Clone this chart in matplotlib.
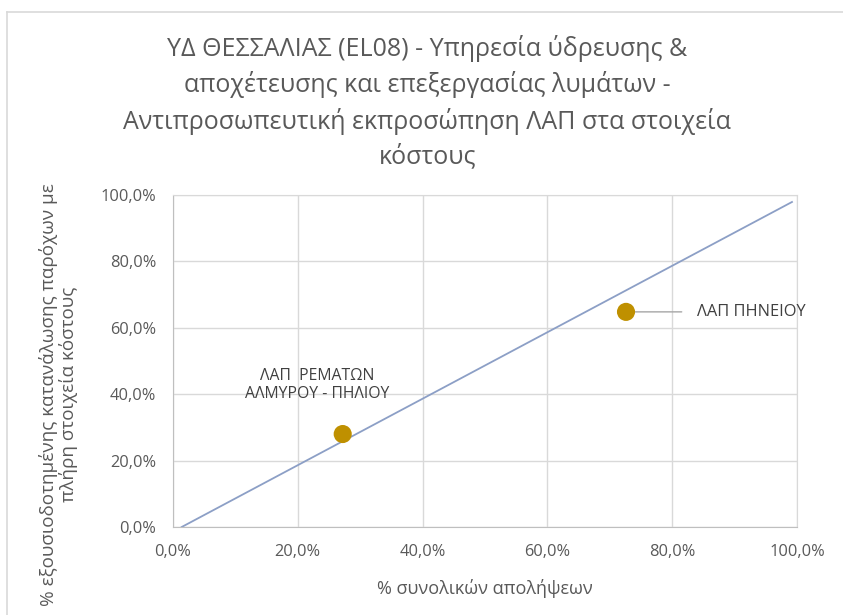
import matplotlib
matplotlib.use('Agg')
import matplotlib.pyplot as plt
from matplotlib.ticker import FuncFormatter, MultipleLocator
from matplotlib.lines import Line2D

plt.rcParams['font.family'] = ['Open Sans', 'DejaVu Sans']

# data
x_pct = [0.272, 0.726]                  # % συνολικών απολήψεων
y_pct = [0.280, 0.648]                  # % εξουσιοδοτημένης κατανάλωσης
point_names = ['ΛΑΠ  ΡΕΜΑΤΩΝ\nΑΛΜΥΡΟΥ - ΠΗΛΙΟΥ', 'ΛΑΠ ΠΗΝΕΙΟΥ']
ref_line_x = [0.014, 0.992]
ref_line_y = [0.0, 0.979]

title = ('ΥΔ ΘΕΣΣΑΛΙΑΣ (EL08) - Υπηρεσία ύδρευσης &\n'
         'αποχέτευσης και επεξεργασίας λυμάτων -\n'
         'Αντιπροσωπευτική εκπροσώπηση ΛΑΠ στα στοιχεία\n'
         'κόστους')
xlab = '% συνολικών απολήψεων'
ylab = '% εξουσιοδοτημένης κατανάλωσης παρόχων με\nπλήρη στοιχεία κόστους'

grey = '#595959'
gridc = '#D9D9D9'

fig = plt.figure(figsize=(8.43, 6.15), dpi=100)
ax = fig.add_axes([0.2052, 0.1431, 0.7402, 0.5398])

# outer chart border (only top/left visible in the crop)
fig.add_artist(Line2D([7/843, 1], [1 - 12/615, 1 - 12/615], color=gridc, lw=1.2,
                      transform=fig.transFigure))
fig.add_artist(Line2D([7/843, 7/843], [0, 1 - 12/615], color=gridc, lw=1.2,
                      transform=fig.transFigure))

ax.plot(ref_line_x, ref_line_y, color='#8C9FC6', lw=1.3, zorder=2)
ax.scatter(x_pct, y_pct, s=170, color='#BF9000', edgecolors='none', zorder=4)

# labels
ax.annotate(point_names[0], xy=(x_pct[0], y_pct[0]), xytext=(-26, 49),
            textcoords='offset pixels', ha='center', va='center',
            fontsize=11.3, color='#404040', linespacing=1.15)
ax.annotate(point_names[1], xy=(x_pct[1], y_pct[1]), xytext=(71, 0),
            textcoords='offset pixels', ha='left', va='center',
            fontsize=11.8, color='#404040',
            arrowprops=dict(arrowstyle='-', color='#A6A6A6', lw=1,
                            shrinkA=9, shrinkB=0), zorder=3)

ax.set_xlim(0, 1)
ax.set_ylim(0, 1)
ax.xaxis.set_major_locator(MultipleLocator(0.2))
ax.yaxis.set_major_locator(MultipleLocator(0.2))
fmt = FuncFormatter(lambda v, p: '{:.1f}%'.format(v * 100).replace('.', ','))
ax.xaxis.set_major_formatter(fmt)
ax.yaxis.set_major_formatter(fmt)
ax.tick_params(length=0, labelsize=11.8, labelcolor=grey, pad=12)
ax.grid(color=gridc, lw=1)
ax.set_axisbelow(True)
for s in ax.spines.values():
    s.set_color(gridc)
ax.spines['left'].set_color('#BFBFBF')
ax.spines['bottom'].set_color('#BFBFBF')

ax.set_xlabel(xlab, fontsize=13, color=grey, labelpad=14)
ax.set_ylabel(ylab, fontsize=13.6, color=grey, linespacing=1.05)
ax.yaxis.set_label_coords(-0.152, 0.40)

fig.text(0.507, 1 - 102/615, title, ha='center', va='center',
         fontsize=18, color=grey, linespacing=1.45)

fig.savefig('out.png', dpi=100, facecolor='white')
